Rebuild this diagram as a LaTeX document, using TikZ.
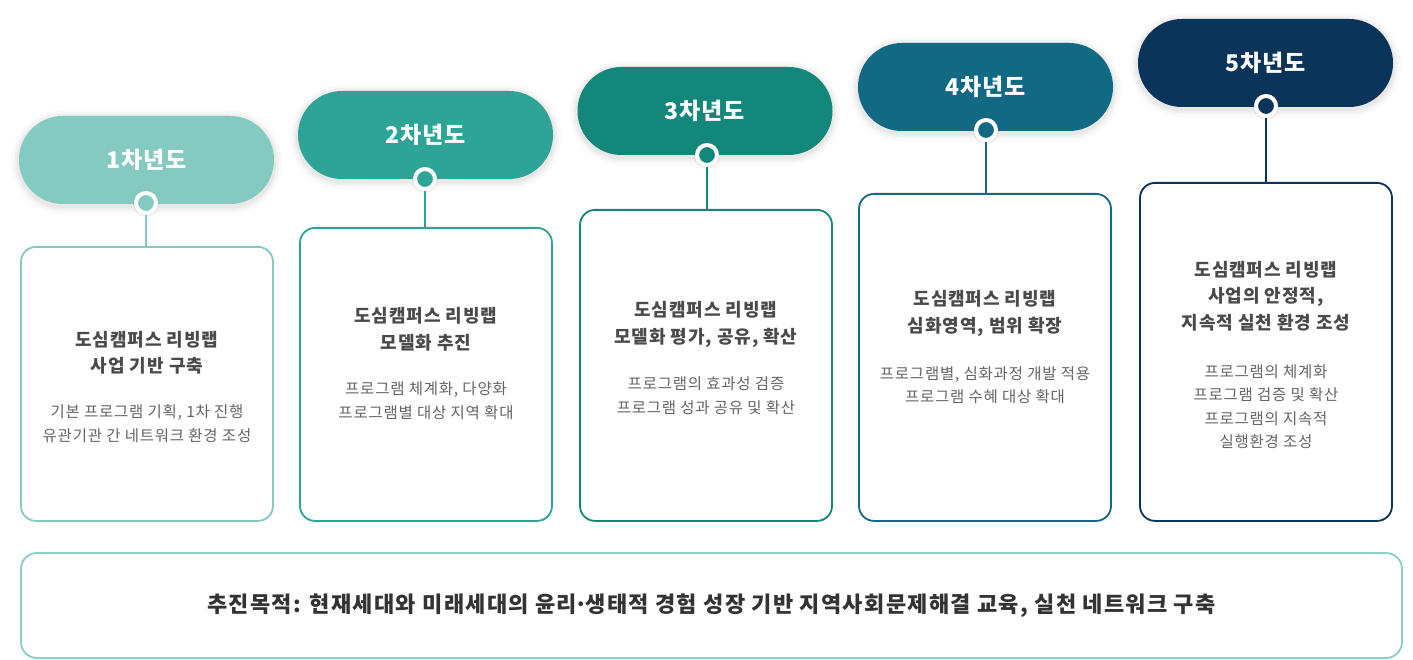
\documentclass[tikz,border=0pt]{standalone}
\usepackage{fontspec}
\newfontfamily\kr{Noto Sans CJK KR}
\usetikzlibrary{positioning}
\definecolor{cA}{HTML}{84CAC1}
\definecolor{cB}{HTML}{2EA497}
\definecolor{cC}{HTML}{13887A}
\definecolor{cD}{HTML}{126984}
\definecolor{cE}{HTML}{0A3459}
\definecolor{txt}{HTML}{4A4A4A}
\definecolor{goalline}{HTML}{8ACFC6}
\tikzset{
  pill/.style={fill=#1, minimum width=255pt, minimum height=88pt, rounded corners=43.9pt,
    text=white, font=\kr\bfseries\addfontfeature{LetterSpace=4}\fontsize{23}{26}\selectfont, inner sep=0pt},
  dotring/.style={circle, fill=#1, draw=white, line width=4pt, minimum size=20pt, inner sep=0pt},
  card/.style={draw=#1, line width=1.8pt, fill=white, rounded corners=15pt, minimum width=252pt, inner sep=0pt, anchor=north},
  link/.style={draw=#1, line width=1.4pt},
  ttl/.style={text=txt, align=center, font=\kr\bfseries\addfontfeature{LetterSpace=5}\fontsize{18}{26.5}\selectfont, inner sep=0pt},
  bdy/.style={text=txt!85!white, align=center, font=\kr\addfontfeature{LetterSpace=5}\fontsize{15.5}{23.5}\selectfont, inner sep=0pt},
  goal/.style={draw=goalline, line width=1.8pt, rounded corners=16pt, minimum width=1381pt, minimum height=105pt, inner sep=0pt,
    text=black!80, font=\kr\bfseries\addfontfeature{LetterSpace=6}\fontsize{22}{25}\selectfont}
}
\begin{document}
\begin{tikzpicture}[x=1pt,y=-1pt]
\useasboundingbox (0,0) rectangle (1413,660);
\fill[white] (0,0) rectangle (1413,660);

% shadows (soft glow)
\foreach \cx/\cy in {146.5/160, 425.5/135, 705/111, 985.5/87, 1265.5/63}{
  \foreach \g/\o in {8/0.02,5/0.03,2.5/0.04}{
    \fill[black,opacity=\o,rounded corners=44pt+\g pt] (\cx-127.5-\g,\cy-44-\g+2) rectangle (\cx+127.5+\g,\cy+44+\g+2);
  }
}

% column 1
\node[card=cA, minimum height=274pt] (box1) at (147,246) {};
\node[pill=cA] (p1) at (146.5,160) {1차년도};
\fill[black,opacity=0.06] (146,204) circle (13pt);
\node[dotring=cA] (d1) at (146,203) {};
\draw[link=cA] (d1) -- (box1.north -| d1);
\node[ttl] (t1) at (147,352.5) {도심캠퍼스 리빙랩\\사업 기반 구축};
\node[bdy] (b1) at (147,423.5) {기본 프로그램 기획, 1차 진행\\유관기관 간 네트워크 환경 조성};

% column 2
\node[card=cB, minimum height=293pt] (box2) at (426,227) {};
\node[pill=cB] (p2) at (425.5,135) {2차년도};
\fill[black,opacity=0.06] (425,180) circle (13pt);
\node[dotring=cB] (d2) at (425,179) {};
\draw[link=cB] (d2) -- (box2.north -| d2);
\node[ttl] (t2) at (426,329.5) {도심캠퍼스 리빙랩\\모델화 추진};
\node[bdy] (b2) at (426,400.5) {프로그램 체계화, 다양화\\프로그램별 대상 지역 확대};

% column 3
\node[card=cC, minimum height=311pt] (box3) at (706,209) {};
\node[pill=cC] (p3) at (705,111) {3차년도};
\fill[black,opacity=0.06] (707,156) circle (13pt);
\node[dotring=cC] (d3) at (707,155) {};
\draw[link=cC] (d3) -- (box3.north -| d3);
\node[ttl] (t3) at (706,324.5) {도심캠퍼스 리빙랩\\모델화 평가, 공유, 확산};
\node[bdy] (b3) at (706,395.5) {프로그램의 효과성 검증\\프로그램 성과 공유 및 확산};

% column 4
\node[card=cD, minimum height=327pt] (box4) at (985,193) {};
\node[pill=cD] (p4) at (985.5,87) {4차년도};
\fill[black,opacity=0.06] (986,131) circle (13pt);
\node[dotring=cD] (d4) at (986,130) {};
\draw[link=cD] (d4) -- (box4.north -| d4);
\node[ttl] (t4) at (985,313.5) {도심캠퍼스 리빙랩\\심화영역, 범위 확장};
\node[bdy] (b4) at (985,385) {프로그램별, 심화과정 개발 적용\\프로그램 수혜 대상 확대};

% column 5
\node[card=cE, minimum height=338pt] (box5) at (1266,182) {};
\node[pill=cE] (p5) at (1265.5,63) {5차년도};
\fill[black,opacity=0.06] (1266,107) circle (13pt);
\node[dotring=cE] (d5) at (1266,106) {};
\draw[link=cE] (d5) -- (box5.north -| d5);
\node[ttl] (t5) at (1266,296) {도심캠퍼스 리빙랩\\사업의 안정적,\\지속적 실천 환경 조성};
\node[bdy] (b5) at (1266,406.5) {프로그램의 체계화\\프로그램 검증 및 확산\\프로그램의 지속적\\실행환경 조성};

% goal
\node[goal] (goal) at (711.5,605.5) {추진목적: 현재세대와 미래세대의 윤리\kern-2.5pt·\kern-2.5pt생태적 경험 성장 기반 지역사회문제해결 교육, 실천 네트워크 구축};
\end{tikzpicture}
\end{document}
